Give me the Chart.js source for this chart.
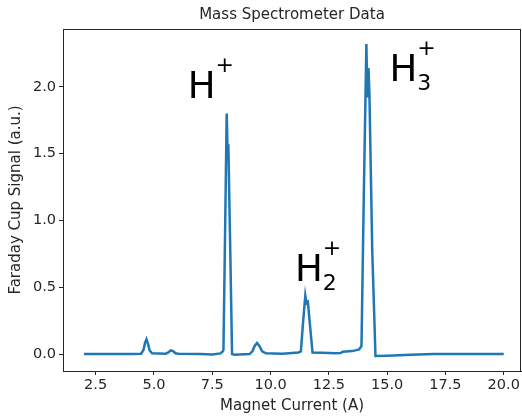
<!DOCTYPE html>
<html>
<head>
<meta charset="utf-8">
<script src="https://cdn.jsdelivr.net/npm/chart.js@4.4.0/dist/chart.umd.min.js"></script>
<style>
 html, body { margin: 0; padding: 0; background: #fff; overflow: hidden; }
</style>
</head>
<body>
<canvas id="spectrum" width="522" height="417"></canvas>
<script>
// Magnet current (A) and Faraday cup signal (a.u.)
const current = [2.0, 3.0, 4.0, 4.45, 4.55, 4.62, 4.68, 4.74, 4.82, 4.92,
 5.5, 5.62, 5.72, 5.82, 5.92, 6.05, 7.0, 7.5, 7.85, 7.95,
 7.98, 8.05, 8.12, 8.16, 8.19, 8.27, 8.35, 8.45, 9.1, 9.22,
 9.32, 9.42, 9.52, 9.64, 9.8, 10.5, 11.2, 11.3, 11.4, 11.49,
 11.54, 11.6, 11.7, 11.8, 12.2, 12.8, 13.0, 13.1, 13.5, 13.8,
 13.9, 14.0, 14.11, 14.15, 14.2, 14.24, 14.36, 14.5, 15.0, 16.0,
 17.0, 20.0];
const signal = [0.0, 0.0, 0.0, 0.002, 0.03, 0.085, 0.11, 0.08, 0.025, 0.005,
 0.003, 0.012, 0.027, 0.022, 0.006, 0.002, 0.0, -0.003, 0.005, 0.02,
 0.03, 0.9, 1.80, 1.5, 1.57, 0.8, 0.0, -0.005, 0.0, 0.02,
 0.06, 0.082, 0.06, 0.02, 0.005, 0.003, 0.012, 0.02, 0.25, 0.437,
 0.38, 0.39, 0.2, 0.012, 0.01, 0.005, 0.008, 0.018, 0.022, 0.035,
 0.06, 1.2, 2.32, 1.92, 2.14, 1.95, 0.78, -0.015, -0.012, -0.005,
 0.0, 0.0];

const xTicks = [2.5, 5.0, 7.5, 10.0, 12.5, 15.0, 17.5, 20.0];
const yTicks = [0.0, 0.5, 1.0, 1.5, 2.0];

// Peak labels: ion symbol, subscript, superscript
const ionNames = ["H", "H", "H"];
const ionSubs = ["", "2", "3"];
const ionSups = ["+", "+", "+"];

const points = current.map((c, i) => ({ x: c, y: signal[i] }));
const ink = "#262626";
const font = '"DejaVu Sans", sans-serif';

// Full box around the plot area, like matplotlib spines
const frame = {
 id: "frame",
 afterDraw(chart) {
  const { ctx, chartArea: a } = chart;
  ctx.save();
  ctx.strokeStyle = ink;
  ctx.lineWidth = 1;
  ctx.strokeRect(a.left + 0.5, a.top + 0.5, a.right - a.left - 1, a.bottom - a.top);
  ctx.restore();
 },
};

// Text annotations placed in data coordinates
const ionLabels = {
 id: "ionLabels",
 afterDatasetsDraw(chart, args, opts) {
  const { ctx, scales } = chart;
  ctx.save();
  ctx.fillStyle = "#000";
  ctx.textBaseline = "alphabetic";
  opts.at.forEach((pos, i) => {
   const px = scales.x.getPixelForValue(pos[0]);
   const py = scales.y.getPixelForValue(pos[1]);
   ctx.font = "37px " + font;
   ctx.fillText(ionNames[i], px, py);
   const w = ctx.measureText(ionNames[i]).width;
   ctx.font = "22px " + font;
   if (ionSubs[i]) ctx.fillText(ionSubs[i], px + w, py + 9);
   ctx.fillText(ionSups[i], px + w, py - 26);
  });
  ctx.restore();
 },
};

const config = {
 type: "scatter",
 data: {
  datasets: [
   {
    data: points,
    showLine: true,
    borderColor: "#1f77b4",
    borderWidth: 2.5,
    pointRadius: 0,
    tension: 0,
   },
  ],
 },
 options: {
  responsive: false,
  animation: false,
  layout: { padding: { left: 0, right: 1, top: 0, bottom: 0 } },
  plugins: {
   legend: { display: false },
   tooltip: { enabled: false },
   title: {
    display: true,
    fullSize: false,
    text: "Mass Spectrometer Data",
    color: ink,
    font: { family: font, size: 15, weight: "normal" },
    padding: { top: 6, bottom: 5 },
   },
   ionLabels: { at: [[6.45, 1.915], [11.05, 0.545], [15.1, 2.045]] },
  },
  scales: {
   x: {
    type: "linear",
    min: 1.1,
    max: 20.74,
    afterBuildTicks: (s) => { s.ticks = xTicks.map((v) => ({ value: v })); },
    afterFit: (s) => { s.height = 46; },
    ticks: {
     callback: (v) => v.toFixed(1),
     color: ink,
     font: { family: font, size: 14.5 },
     padding: 2,
     maxRotation: 0,
     autoSkip: false,
    },
    grid: { drawOnChartArea: false, drawTicks: true, tickLength: 4, color: ink },
    border: { display: true, color: ink },
    title: {
     display: true,
     text: "Magnet Current (A)",
     color: ink,
     font: { family: font, size: 15 },
     padding: { top: 0, bottom: 2 },
    },
   },
   y: {
    type: "linear",
    min: -0.127,
    max: 2.433,
    afterBuildTicks: (s) => { s.ticks = yTicks.map((v) => ({ value: v })); },
    afterFit: (s) => { s.width = 63; },
    ticks: {
     callback: (v) => v.toFixed(1),
     color: ink,
     font: { family: font, size: 14.5 },
     padding: 3,
     autoSkip: false,
    },
    grid: { drawOnChartArea: false, drawTicks: true, tickLength: 4, color: ink },
    border: { display: true, color: ink },
    title: {
     display: true,
     text: "Faraday Cup Signal (a.u.)",
     color: ink,
     font: { family: font, size: 15 },
     padding: { top: 7, bottom: 0 },
    },
   },
  },
 },
 plugins: [frame, ionLabels],
};

const spectrumChart = new Chart(document.getElementById("spectrum"), config);
</script>
</body>
</html>
